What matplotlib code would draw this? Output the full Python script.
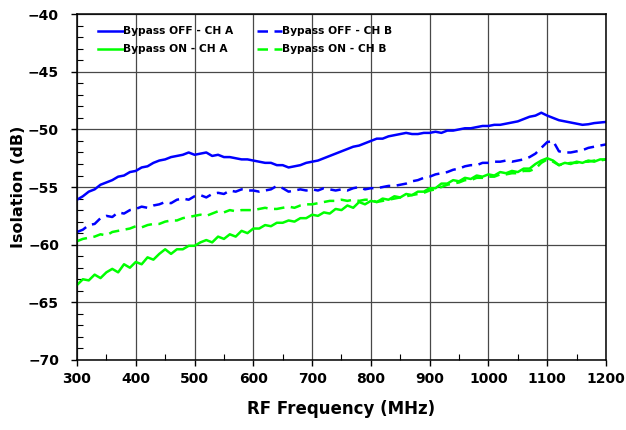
import matplotlib
matplotlib.use('Agg')
import matplotlib.pyplot as plt
from matplotlib.ticker import MultipleLocator

# Frecuencias (MHz), un punto cada 10 MHz
freq = list(range(300, 1201, 10))

# Bypass OFF - CH A (dB)
off_a = [-56.1, -55.8, -55.4, -55.2, -54.8, -54.6, -54.4, -54.1, -54.0, -53.7,
         -53.6, -53.3, -53.2, -52.9, -52.7, -52.6, -52.4, -52.3, -52.2, -52.0,
         -52.2, -52.1, -52.0, -52.3, -52.2, -52.4, -52.4, -52.5, -52.6, -52.6,
         -52.7, -52.8, -52.9, -52.9, -53.1, -53.1, -53.3, -53.2, -53.1, -52.9,
         -52.8, -52.7, -52.5, -52.3, -52.1, -51.9, -51.7, -51.5, -51.4, -51.2,
         -51.0, -50.8, -50.8, -50.6, -50.5, -50.4, -50.3, -50.4, -50.4, -50.3,
         -50.3, -50.2, -50.3, -50.1, -50.1, -50.0, -49.9, -49.9, -49.8, -49.7,
         -49.7, -49.6, -49.6, -49.5, -49.4, -49.3, -49.1, -48.9, -48.8, -48.55,
         -48.8, -49.0, -49.2, -49.3, -49.4, -49.5, -49.6, -49.55, -49.45, -49.4,
         -49.35]

# Bypass OFF - CH B (dB)
off_b = [-58.9, -58.7, -58.3, -58.2, -57.7, -57.5, -57.6, -57.2, -57.3, -57.0,
         -56.9, -56.7, -56.8, -56.6, -56.5, -56.3, -56.4, -56.1, -56.0, -56.1,
         -55.8, -55.7, -55.9, -55.6, -55.5, -55.6, -55.3, -55.4, -55.2, -55.3,
         -55.3, -55.4, -55.3, -55.2, -54.9, -55.1, -55.4, -55.3, -55.2, -55.3,
         -55.2, -55.3, -55.1, -55.2, -55.3, -55.2, -55.3, -55.1, -55.0, -55.2,
         -55.1, -55.1, -55.0, -54.9, -54.9, -54.8, -54.7, -54.5, -54.4, -54.2,
         -54.1, -53.9, -53.8, -53.7, -53.5, -53.4, -53.2, -53.1, -53.1, -52.9,
         -52.9, -52.8, -52.8, -52.7, -52.8, -52.7, -52.6, -52.4, -52.1, -51.6,
         -51.1, -51.0, -51.9, -52.0, -52.0, -51.9, -51.8, -51.6, -51.5, -51.4,
         -51.3]

# Bypass ON - CH A (dB)
on_a = [-63.5, -63.0, -63.1, -62.6, -62.9, -62.4, -62.1, -62.4, -61.7, -62.0,
        -61.5, -61.7, -61.1, -61.3, -60.8, -60.4, -60.8, -60.4, -60.4, -60.1,
        -60.1, -59.8, -59.6, -59.8, -59.3, -59.5, -59.1, -59.3, -58.8, -59.0,
        -58.6, -58.6, -58.3, -58.4, -58.1, -58.1, -57.9, -58.0, -57.7, -57.7,
        -57.4, -57.5, -57.2, -57.3, -56.9, -57.0, -56.6, -56.8, -56.3, -56.5,
        -56.2, -56.3, -56.0, -56.1, -55.8, -55.9, -55.6, -55.7, -55.4, -55.4,
        -55.1, -55.1, -54.7, -54.7, -54.4, -54.5, -54.2, -54.3, -54.0, -54.1,
        -53.9, -54.0, -53.7, -53.8, -53.6, -53.7, -53.4, -53.4, -53.0, -52.7,
        -52.5, -52.7, -53.1, -52.9, -53.0, -52.8, -52.9, -52.7, -52.8, -52.6,
        -52.6]

# Bypass ON - CH B (dB)
on_b = [-59.7, -59.5, -59.4, -59.3, -59.1, -59.2, -58.9, -58.8, -58.7, -58.6,
        -58.4, -58.5, -58.3, -58.2, -58.2, -58.0, -57.9, -57.9, -57.7, -57.6,
        -57.5, -57.4, -57.5, -57.3, -57.1, -57.2, -57.0, -57.1, -57.0, -57.0,
        -57.0, -56.9, -56.8, -56.9, -56.9, -56.8, -56.7, -56.8, -56.6, -56.5,
        -56.5, -56.4, -56.3, -56.2, -56.2, -56.1, -56.2, -56.1, -56.2, -56.1,
        -56.1, -56.3, -56.2, -56.1, -56.0, -55.9, -55.8, -55.7, -55.6, -55.5,
        -55.3, -55.2, -55.0, -54.8, -54.7, -54.6, -54.4, -54.4, -54.2, -54.2,
        -54.1, -54.1, -53.9, -53.9, -53.8, -53.8, -53.6, -53.6, -53.4, -52.9,
        -52.6, -52.8, -53.1, -53.0, -52.9, -52.9, -52.8, -52.8, -52.7, -52.7,
        -52.6]

azul = '#0000ff'
verde = '#00ff00'
guiones = (4.2, 2.6)

fig = plt.figure(figsize=(6.26, 4.30), dpi=100)
ax = fig.add_subplot(1, 1, 1)
fig.subplots_adjust(left=0.123, right=0.968, top=0.967, bottom=0.163)

ax.plot(freq, off_a, color=azul, lw=1.8, label='Bypass OFF - CH A')
ax.plot(freq, off_b, color=azul, lw=1.8, dashes=guiones, label='Bypass OFF - CH B')
ax.plot(freq, on_a, color=verde, lw=1.8, label='Bypass ON - CH A')
ax.plot(freq, on_b, color=verde, lw=1.8, dashes=guiones, label='Bypass ON - CH B')

# Ejes y rejilla
ax.set_xlim(300, 1200)
ax.set_ylim(-70, -40)
ax.xaxis.set_major_locator(MultipleLocator(100))
ax.xaxis.set_minor_locator(MultipleLocator(50))
ax.yaxis.set_major_locator(MultipleLocator(5))
ax.yaxis.set_minor_locator(MultipleLocator(1))
ax.grid(True, which='major', color='#484848', lw=0.9)
ax.set_axisbelow(True)
ax.tick_params(which='major', direction='out', length=4, width=1, labelsize=10)
ax.tick_params(axis='x', which='major', pad=5)
ax.tick_params(axis='y', which='major', pad=9)
ax.tick_params(which='minor', direction='in', length=4, width=0.8)
for lab in ax.get_xticklabels() + ax.get_yticklabels():
    lab.set_fontweight('bold')
for s in ax.spines.values():
    s.set_linewidth(1.1)
    s.set_color('black')

ax.set_xlabel('RF Frequency (MHz)', fontsize=12, fontweight='bold', labelpad=10)
ax.set_ylabel('Isolation (dB)', fontsize=11.5, fontweight='bold', labelpad=1)

# Leyenda en dos columnas
h, l = ax.get_legend_handles_labels()
orden = [0, 2, 1, 3]
ax.legend([h[i] for i in orden], [l[i] for i in orden], ncol=2, loc='upper left',
          bbox_to_anchor=(0.040, 0.965), borderaxespad=0, borderpad=0,
          frameon=False, handlelength=2.3, handletextpad=0.05, columnspacing=2.2,
          labelspacing=0.75, prop={'weight': 'bold', 'size': 7.7})

fig.savefig('out.png', dpi=100)
